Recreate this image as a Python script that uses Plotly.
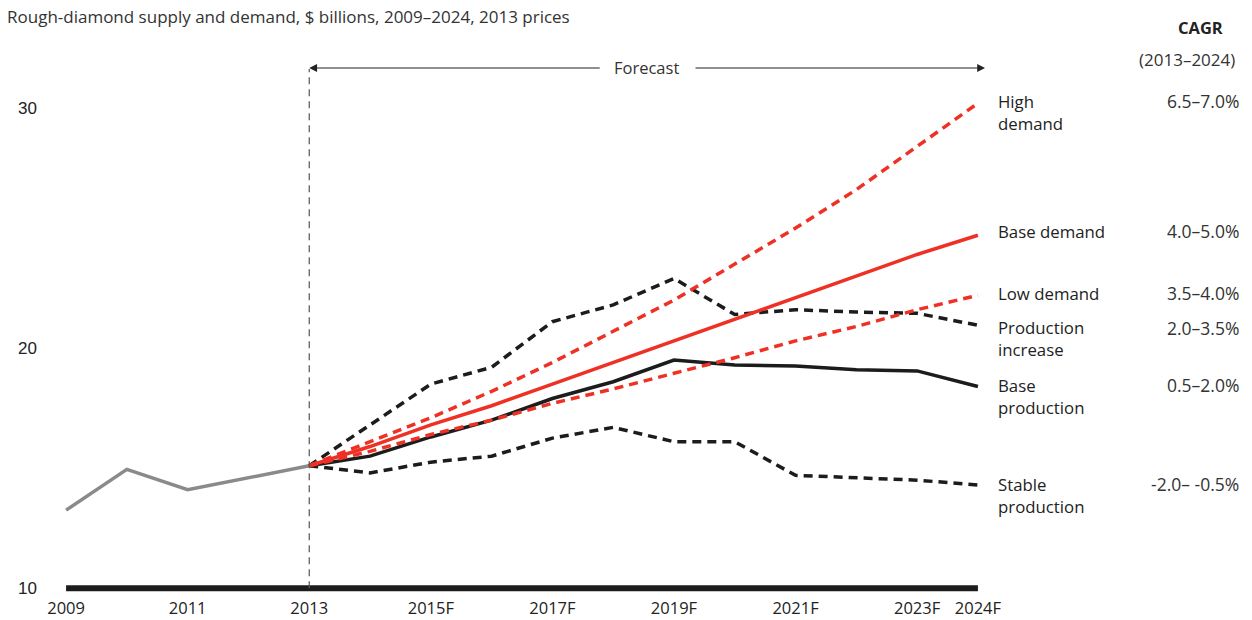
import plotly.graph_objects as go

# Historical rough-diamond market, $ billions (2013 prices)
hist_years = [2009, 2010, 2011, 2012, 2013]
hist_values = [13.25, 14.95, 14.1, 14.6, 15.1]

# Forecast scenarios, 2013-2024
fc_years = [2013, 2014, 2015, 2016, 2017, 2018, 2019, 2020, 2021, 2022, 2023, 2024]
high_demand = [15.1, 16.1, 17.1, 18.2, 19.4, 20.7, 22.0, 23.5, 25.0, 26.6, 28.4, 30.2]
base_demand = [15.1, 15.9, 16.8, 17.6, 18.5, 19.4, 20.3, 21.2, 22.1, 23.0, 23.9, 24.7]
low_demand = [15.1, 15.7, 16.4, 17.0, 17.7, 18.3, 18.95, 19.6, 20.3, 20.9, 21.6, 22.2]
production_increase = [15.1, 16.8, 18.5, 19.2, 21.1, 21.8, 22.9, 21.4, 21.6, 21.5, 21.45, 20.95]
base_production = [15.1, 15.5, 16.3, 17.0, 17.9, 18.6, 19.5, 19.3, 19.25, 19.1, 19.05, 18.4]
stable_production = [15.1, 14.8, 15.25, 15.5, 16.25, 16.7, 16.1, 16.1, 14.7, 14.6, 14.5, 14.3]

tick_years = [2009, 2011, 2013, 2015, 2017, 2019, 2021, 2023, 2024]
tick_labels = ["2009", "2011", "2013", "2015F", "2017F", "2019F", "2021F", "2023F", "2024F"]

# Scenario labels on the right: (text, y-centre in px, CAGR text, CAGR y-centre)
scenario_labels = [
    ("High<br>demand", 112, "6.5–7.0%", 101),
    ("Base demand", 231, "4.0–5.0%", 231),
    ("Low demand", 293, "3.5–4.0%", 293),
    ("Production<br>increase", 338, "2.0–3.5%", 328),
    ("Base<br>production", 396, "0.5–2.0%", 385),
    ("Stable<br>production", 495, "-2.0– -0.5%", 484),
]

RED = "#ee3124"
BLACK = "#1c1c1c"
GREY = "#8a8a8a"
DASH = "9px,6px"
FONT = "'Open Sans', 'Noto Sans', sans-serif"

W, H = 1252, 620
ML, MR, MT, MB = 60, 268, 84, 27
X_RANGE = [2008.9, 2024.1]
Y_RANGE = [9.8, 31.0]


def px_to_paper_x(px):
    return (px - ML) / (W - ML - MR)


def px_to_paper_y(py):
    return (H - MB - py) / (H - MT - MB)


def year_to_paper_x(year):
    return (year - X_RANGE[0]) / (X_RANGE[1] - X_RANGE[0])


def value_to_paper_y(v):
    return (v - Y_RANGE[0]) / (Y_RANGE[1] - Y_RANGE[0])


fig = go.Figure()

# thick baseline at the bottom of the value axis
fig.add_trace(go.Scatter(x=[2009, 2024], y=[10, 10], mode="lines",
                         line=dict(color=BLACK, width=6), hoverinfo="skip"))

fig.add_trace(go.Scatter(x=hist_years, y=hist_values, mode="lines",
                         line=dict(color=GREY, width=3.5)))

series = [
    (stable_production, BLACK, DASH),
    (production_increase, BLACK, DASH),
    (base_production, BLACK, "solid"),
    (low_demand, RED, DASH),
    (high_demand, RED, DASH),
    (base_demand, RED, "solid"),
]
for vals, color, dash in series:
    fig.add_trace(go.Scatter(x=fc_years, y=vals, mode="lines",
                             line=dict(color=color, width=3.5, dash=dash)))

x2013 = year_to_paper_x(2013)
y_arrow = px_to_paper_y(68)

shapes = [
    dict(type="line", xref="paper", yref="paper", x0=x2013, x1=x2013,
         y0=value_to_paper_y(10), y1=y_arrow - 0.002,
         line=dict(color="#555555", width=1.2, dash="7px,5px")),
]

annotations = [
    dict(text="Rough-diamond supply and demand, $ billions, 2009–2024, 2013 prices",
         xref="paper", yref="paper", x=px_to_paper_x(5), y=px_to_paper_y(16),
         xanchor="left", yanchor="middle", showarrow=False,
         font=dict(family=FONT, size=17, color="#333333")),
    dict(text="Forecast", xref="paper", yref="paper", x=px_to_paper_x(646),
         y=y_arrow, xanchor="center", yanchor="middle", showarrow=False,
         font=dict(family=FONT, size=16.5, color="#333333")),
    # left and right arrows of the forecast span
    dict(text="", xref="paper", yref="paper", x=x2013, y=y_arrow,
         ax=600 - 308, ay=0, showarrow=True, arrowhead=2, arrowsize=1.3,
         arrowwidth=1.2, arrowcolor="#222222", standoff=0),
    dict(text="", xref="paper", yref="paper", x=px_to_paper_x(985), y=y_arrow,
         ax=694 - 985, ay=0, showarrow=True, arrowhead=2, arrowsize=1.3,
         arrowwidth=1.2, arrowcolor="#222222", standoff=0),
    dict(text="<b>CAGR</b>", xref="paper", yref="paper", x=px_to_paper_x(1200),
         y=px_to_paper_y(27), xanchor="center", yanchor="middle", showarrow=False,
         font=dict(family=FONT, size=16.5, color="#222222")),
    dict(text="(2013–2024)", xref="paper", yref="paper", x=px_to_paper_x(1187),
         y=px_to_paper_y(60), xanchor="center", yanchor="middle", showarrow=False,
         font=dict(family=FONT, size=17, color="#333333")),
]

for label, ly, cagr, cy in scenario_labels:
    annotations.append(dict(text=label, xref="paper", yref="paper",
                            x=px_to_paper_x(996), y=px_to_paper_y(ly),
                            xanchor="left", yanchor="middle", align="left",
                            showarrow=False,
                            font=dict(family=FONT, size=16.8, color="#222222")))
    annotations.append(dict(text=cagr, xref="paper", yref="paper",
                            x=px_to_paper_x(1241), y=px_to_paper_y(cy),
                            xanchor="right", yanchor="middle", showarrow=False,
                            font=dict(family=FONT, size=17.5, color="#333333")))

fig.update_layout(
    width=W, height=H,
    margin=dict(l=ML, r=MR, t=MT, b=MB),
    paper_bgcolor="white", plot_bgcolor="white",
    showlegend=False,
    shapes=shapes,
    annotations=annotations,
    xaxis=dict(range=X_RANGE, tickmode="array", tickvals=tick_years,
               ticktext=tick_labels, showgrid=False, zeroline=False,
               showline=False, ticks="", automargin=False,
               ticklabelstandoff=3,
               tickfont=dict(family=FONT, size=16.5, color="#222222")),
    yaxis=dict(range=Y_RANGE, tickmode="array", tickvals=[10, 20, 30],
               showgrid=False, zeroline=False, showline=False, ticks="",
               ticklabelstandoff=22, automargin=False,
               tickfont=dict(family="'Liberation Sans', Arial, sans-serif",
                             size=17, color="#222222")),
)

fig.write_html("out.html")
